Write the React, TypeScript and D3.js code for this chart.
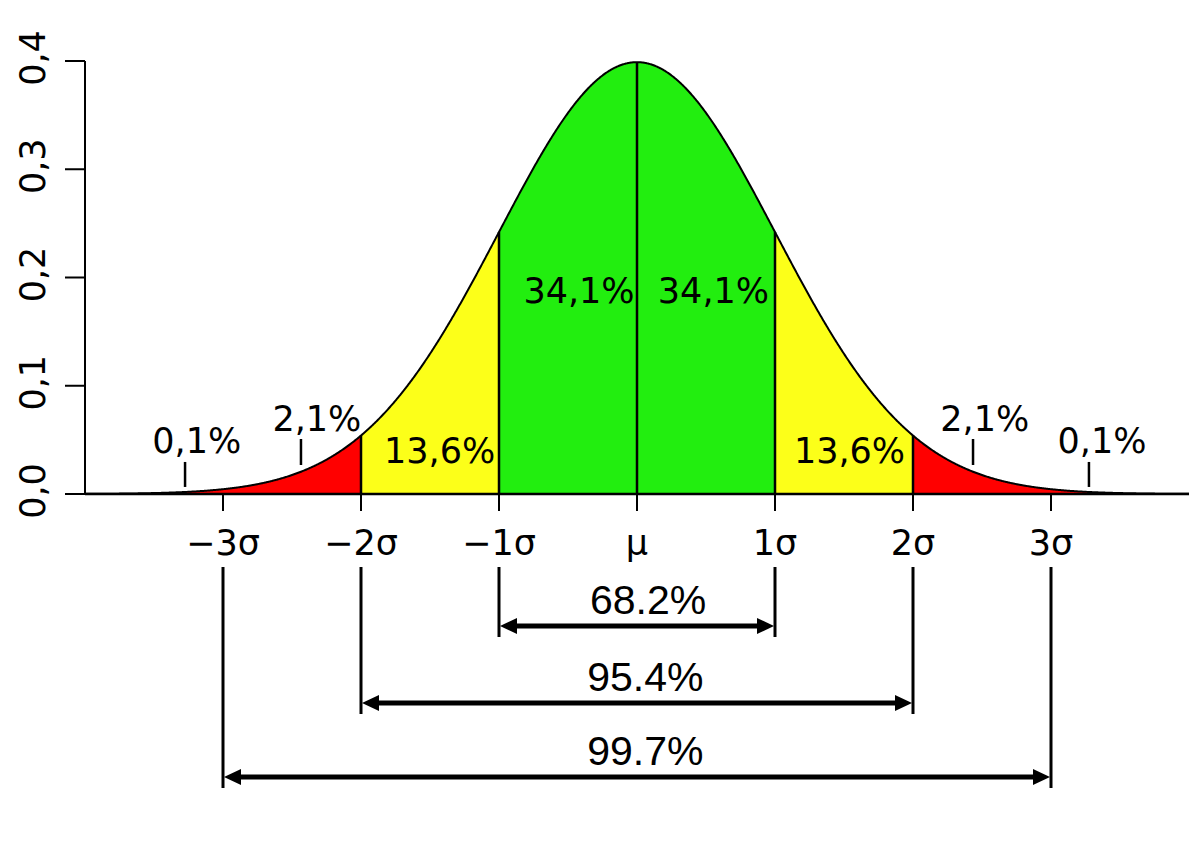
import React from "react";
import * as d3 from "d3";

// ---- data ----
const sigmaTicks = [-3, -2, -1, 0, 1, 2, 3];
const sigmaLabels = ["\u22123\u03c3", "\u22122\u03c3", "\u22121\u03c3", "\u03bc", "1\u03c3", "2\u03c3", "3\u03c3"];
const yTicks = [0, 0.1, 0.2, 0.3, 0.4];
const yTickLabels = ["0,0", "0,1", "0,2", "0,3", "0,4"];
const bandEdges = [-4, -2, -1, 0, 1, 2, 4];
const dividers = [-2, -1, 0, 1, 2];
const pctLabels = ["0,1%", "2,1%", "13,6%", "34,1%", "34,1%", "13,6%", "2,1%", "0,1%"];
const pctLabelX = [-3.19, -2.32, -1.43, -0.42, 0.554, 1.54, 2.52, 3.37];
const pctLabelY = [0.0379, 0.0582, 0.0286, 0.1764, 0.1764, 0.0286, 0.0582, 0.0379];
const leaderX = [-3.275, -2.435, 2.435, 3.275];
const leaderY0 = [0.0065, 0.0268, 0.0268, 0.0065];
const leaderY1 = [0.0296, 0.0508, 0.0508, 0.0296];
const spanSigma = [1, 2, 3];
const spanLabels = ["68.2%", "95.4%", "99.7%"];
const spanLabelX = [0.08, 0.06, 0.06];

// ---- style / layout ----
const W = 1200, H = 850;
const bandColors = ["#ff0000", "#fcff19", "#22ee0f", "#22ee0f", "#fcff19", "#ff0000"];
const spanRowY = [626, 703, 777];
const FONT = "'DejaVu Sans', sans-serif";
const FONT2 = "'Liberation Sans', Arial, sans-serif";

const pdf = (x: number) => Math.exp(-0.5 * x * x) / Math.sqrt(2 * Math.PI);

export default function App() {
  const x = d3.scaleLinear().domain([-4, 4]).range([85, 1189]);
  const y = d3.scaleLinear().domain([0, 0.4]).range([494, 61]);
  const baseY = y(0);

  const samples = (a: number, b: number) => {
    const n = Math.max(2, Math.round((b - a) * 200));
    return d3.range(n + 1).map((i) => a + ((b - a) * i) / n);
  };
  const area = d3.area<number>().x((d) => x(d)).y0(baseY).y1((d) => y(pdf(d)));
  const line = d3.line<number>().x((d) => x(d)).y((d) => y(pdf(d)));

  const bands = bandEdges.slice(0, -1).map((a, i) => ({ a, b: bandEdges[i + 1], color: bandColors[i] }));

  const arrowHead = (tipX: number, yy: number, dir: number) => {
    const L = 17, hw = 8;
    return `M${tipX},${yy} L${tipX - dir * L},${yy - hw} L${tipX - dir * L},${yy + hw} Z`;
  };

  return (
    <svg width={W} height={H} style={{ position: "absolute", left: 0, top: 0, background: "#fff" }}>
      {bands.map((b, i) => (
        <path key={"band" + i} d={area(samples(b.a, b.b)) || ""} fill={b.color} stroke="none" />
      ))}
      {dividers.map((d, i) => (
        <line key={"div" + i} x1={x(d)} x2={x(d)} y1={baseY} y2={y(pdf(d))} stroke="#000" strokeWidth={2.5} />
      ))}
      <path d={line(samples(-4, 4)) || ""} fill="none" stroke="#000" strokeWidth={2} />
      {/* baseline */}
      <line x1={x(-4)} x2={x(4)} y1={baseY} y2={baseY} stroke="#000" strokeWidth={2.5} />
      {/* y axis */}
      <line x1={x(-4)} x2={x(-4)} y1={y(0)} y2={y(0.4)} stroke="#000" strokeWidth={2} />
      {yTicks.map((t, i) => (
        <g key={"yt" + i}>
          <line x1={x(-4) - 20} x2={x(-4)} y1={y(t)} y2={y(t)} stroke="#000" strokeWidth={2} />
          <text
            transform={`translate(45,${y(t) - 3}) rotate(-90)`}
            textAnchor="middle"
            fontFamily={FONT}
            fontSize={35}
            fill="#000"
          >
            {yTickLabels[i]}
          </text>
        </g>
      ))}
      {/* sigma ticks + labels */}
      {sigmaTicks.map((s, i) => (
        <g key={"st" + i}>
          <line x1={x(s)} x2={x(s)} y1={baseY} y2={baseY + 17} stroke="#000" strokeWidth={2} />
          <text x={x(s)} y={555} textAnchor="middle" fontFamily={FONT} fontSize={35} fill="#000">
            {sigmaLabels[i]}
          </text>
        </g>
      ))}
      {/* percent labels */}
      {pctLabels.map((p, i) => (
        <text key={"pl" + i} x={x(pctLabelX[i])} y={y(pctLabelY[i])} textAnchor="middle" fontFamily={FONT} fontSize={35} fill="#000">
          {p}
        </text>
      ))}
      {leaderX.map((lx, i) => (
        <line key={"ld" + i} x1={x(lx)} x2={x(lx)} y1={y(leaderY0[i])} y2={y(leaderY1[i])} stroke="#000" strokeWidth={2.5} />
      ))}
      {/* spans */}
      {spanSigma.map((s, i) => {
        const yy = spanRowY[i];
        const xl = x(-s), xr = x(s);
        return (
          <g key={"sp" + i}>
            <line x1={xl} x2={xl} y1={567} y2={yy + 11} stroke="#000" strokeWidth={3} />
            <line x1={xr} x2={xr} y1={567} y2={yy + 11} stroke="#000" strokeWidth={3} />
            <line x1={xl + 10} x2={xr - 10} y1={yy} y2={yy} stroke="#000" strokeWidth={5} />
            <path d={arrowHead(xl + 1, yy, -1)} fill="#000" />
            <path d={arrowHead(xr - 1, yy, 1)} fill="#000" />
            <text x={x(spanLabelX[i])} y={yy - 12} textAnchor="middle" fontFamily={FONT2} fontSize={41} fill="#000">
              {spanLabels[i]}
            </text>
          </g>
        );
      })}
    </svg>
  );
}
